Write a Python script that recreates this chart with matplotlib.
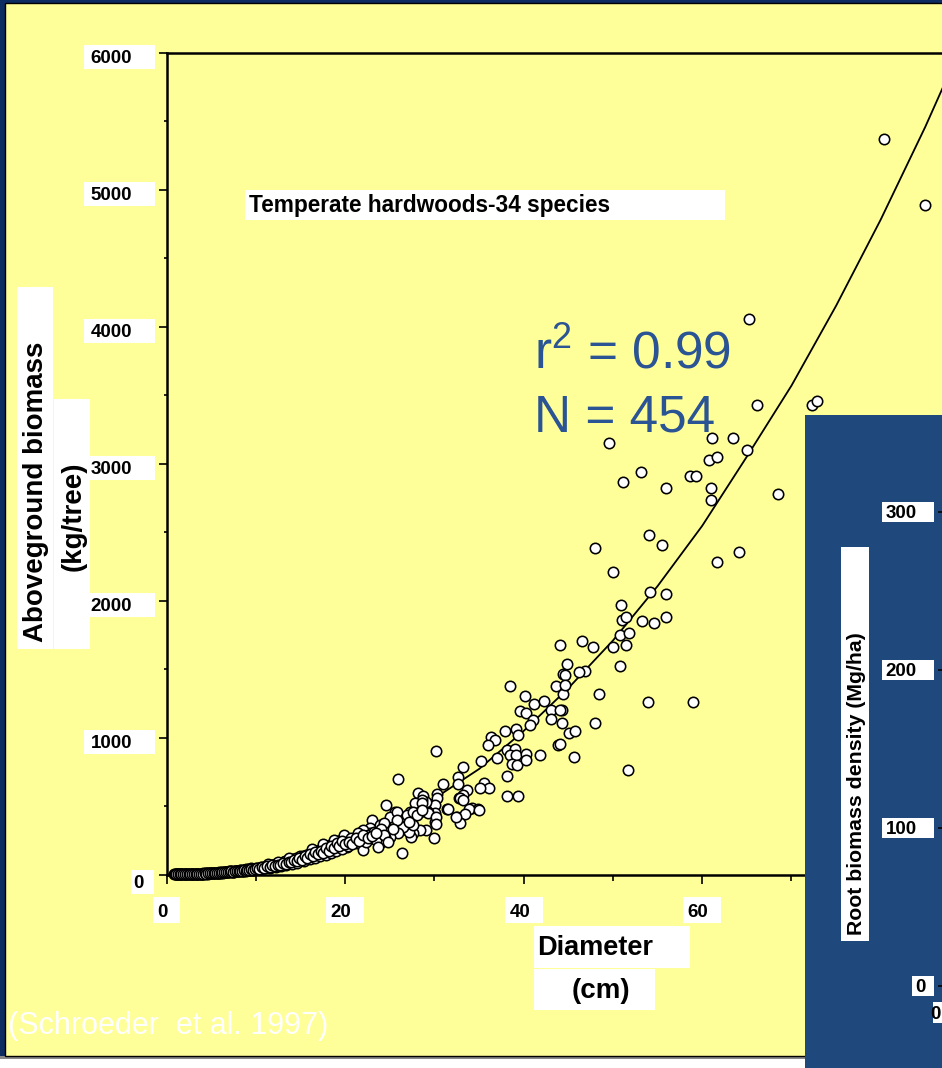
import matplotlib
matplotlib.use('Agg')
import matplotlib.pyplot as plt
from matplotlib.patches import Rectangle
from matplotlib.transforms import Affine2D
from matplotlib.ticker import MultipleLocator

plt.rcParams['font.family'] = ['Liberation Sans', 'DejaVu Sans']
plt.rcParams['mathtext.fontset'] = 'custom'
plt.rcParams['mathtext.rm'] = 'Liberation Sans'

# ---------------- data ----------------
diam_large = [80.4, 85.0, 65.2, 66.1, 72.3, 72.9, 61.1, 63.4, 49.6, 65.0,
              60.8, 61.7, 53.1, 51.1, 55.9, 58.6, 59.3, 61.0, 61.0, 68.5,
              54.0, 55.5, 48.0, 61.7, 64.1, 50.0, 54.2, 55.9]
agb_large = [5371, 4886, 4056, 3427, 3427, 3456, 3184, 3184, 3152, 3097,
             3024, 3050, 2939, 2866, 2822, 2910, 2910, 2822, 2735, 2781,
             2480, 2407, 2380, 2278, 2351, 2206, 2063, 2050]

diam_mid = [50.9, 51.0, 51.5, 53.3, 54.6, 55.9, 50.8, 51.8, 51.5, 50.0,
            46.5, 47.8, 44.1, 46.9, 46.2, 50.8, 44.9, 44.4, 44.6, 44.4,
            44.4, 48.4, 53.9, 59.0, 44.3, 44.3, 48.0, 45.1, 45.8, 43.6,
            44.6, 38.5, 40.1, 41.2, 42.3, 39.6, 40.3, 43.1, 44.1, 43.1,
            41.0, 40.7, 37.9, 39.1, 39.4, 36.3]
agb_mid = [1965, 1861, 1878, 1849, 1834, 1878, 1749, 1764, 1677, 1662,
           1706, 1662, 1677, 1489, 1477, 1519, 1533, 1460, 1453, 1368,
           1320, 1320, 1259, 1259, 1203, 1106, 1106, 1036, 1045, 1375,
           1380, 1375, 1302, 1247, 1264, 1193, 1178, 1203, 1203, 1133,
           1125, 1089, 1045, 1065, 1016, 1004]

diam_low = [36.8, 36.0, 38.1, 39.0, 37.0, 38.5, 39.1, 40.3, 38.7, 39.2,
            40.3, 41.8, 43.8, 44.1, 45.6, 51.7, 30.2, 35.2, 33.2, 38.1,
            32.6, 32.6, 31.0, 35.5, 36.1, 35.1, 33.7, 33.2, 32.7, 32.9,
            38.1, 39.4, 25.9, 28.2, 28.7, 30.3, 30.3, 33.2, 34.2, 34.9,
            31.4, 33.9, 35.0, 32.5, 33.4, 32.9, 32.4, 31.5, 30.1, 30.1,
            30.1, 29.9, 29.3, 29.1, 28.6, 24.6, 27.3, 27.8, 28.6, 28.4,
            26.1, 25.6, 25.0, 29.3, 30.2, 30.2, 29.1, 28.4, 27.6, 23.0,
            23.9, 22.8, 24.6, 22.0, 26.1, 26.9, 26.4, 27.4, 27.1, 26.5,
            25.9, 25.0, 25.8, 26.9, 27.6, 28.0, 28.6, 27.6, 27.1, 25.8,
            24.3, 24.5, 23.0, 23.9, 22.8, 22.0, 21.7, 21.3, 22.0, 20.5,
            20.2, 19.4, 18.9, 18.3]
agb_low = [980, 943, 907, 919, 851, 875, 870, 883, 810, 797,
           839, 875, 943, 950, 858, 761, 902, 829, 785, 717,
           712, 659, 659, 671, 628, 628, 615, 579, 555, 559,
           574, 574, 700, 596, 572, 591, 555, 543, 482, 477,
           475, 475, 470, 421, 438, 373, 421, 477, 506, 446,
           385, 264, 457, 530, 543, 506, 457, 523, 523, 457,
           421, 457, 421, 446, 421, 368, 324, 324, 300, 397,
           360, 336, 348, 312, 324, 324, 159, 275, 312, 348,
           300, 275, 457, 433, 457, 433, 470, 360, 385, 397,
           373, 275, 264, 227, 300, 324, 275, 227, 178, 251,
           202, 191, 227, 202]

diam_small_a = [0.8, 1.0, 1.1, 1.3, 1.4, 1.5, 1.7, 1.8, 2.0, 2.1,
                2.3, 2.4, 2.6, 2.7, 2.9, 3.0, 3.2, 3.3, 3.5, 3.6,
                3.8, 3.9, 4.1, 4.2, 4.4, 4.5, 4.7, 4.8, 5.0, 5.1,
                5.3, 5.4, 5.6, 5.7, 5.9, 1.2, 1.6, 2.2, 2.8, 3.4,
                4.0, 4.6, 5.2, 5.8, 6.0]
agb_small_a = [1, 1, 2, 1, 2, 2, 2, 3, 2, 3,
               3, 4, 3, 4, 5, 4, 5, 6, 5, 6,
               7, 6, 8, 7, 9, 8, 10, 9, 11, 10,
               12, 13, 12, 14, 15, 1, 1, 2, 3, 4,
               6, 7, 9, 11, 13]

diam_small_b = [6.1, 6.3, 6.4, 6.6, 6.7, 6.9, 7.0, 7.2, 7.3, 7.5,
                7.6, 7.8, 7.9, 8.1, 8.2, 8.4, 8.5, 8.7, 8.8, 9.0,
                9.1, 9.3, 9.4, 9.6, 9.7, 9.9, 10.0, 6.5, 7.1, 7.7,
                8.3, 8.9, 9.5, 6.8, 7.4, 8.0, 8.6, 9.2, 9.8]
agb_small_b = [16, 14, 18, 17, 20, 18, 22, 19, 24, 21,
               26, 23, 28, 25, 30, 27, 33, 29, 35, 31,
               38, 34, 40, 36, 43, 39, 46, 21, 25, 29,
               34, 38, 44, 15, 18, 22, 26, 30, 34]

diam_small_c = [10.2, 10.3, 10.5, 10.6, 10.8, 10.9, 11.1, 11.2, 11.4, 11.5,
                11.7, 11.8, 12.0, 12.1, 12.3, 12.4, 12.6, 12.7, 12.9, 13.0,
                13.2, 13.3, 13.5, 13.6, 13.8, 13.9, 14.1, 14.2, 14.4, 14.5,
                14.7, 14.8, 15.0, 10.4, 11.0, 11.6, 12.2, 12.8, 13.4, 14.0,
                14.6, 11.3, 12.5, 13.7, 14.9]
agb_small_c = [42, 50, 47, 55, 51, 58, 54, 62, 57, 66,
               61, 70, 65, 75, 69, 80, 73, 85, 78, 90,
               82, 96, 87, 100, 92, 106, 97, 112, 102, 118,
               108, 124, 113, 38, 44, 50, 56, 62, 70, 78,
               86, 78, 92, 118, 138]

diam_small_d = [15.2, 15.3, 15.5, 15.6, 15.8, 15.9, 16.1, 16.2, 16.4, 16.5,
                16.7, 16.8, 17.0, 17.1, 17.3, 17.4, 17.6, 17.7, 17.9, 18.0,
                18.2, 18.3, 18.5, 18.6, 18.8, 18.9, 19.1, 19.2, 19.4, 19.5,
                19.7, 19.8, 20.0, 15.4, 16.0, 16.6, 17.2, 17.8, 18.4, 19.0,
                19.6, 16.3, 17.5, 18.7, 19.9, 20.3, 20.6, 21.0, 21.4, 21.8,
                22.3, 22.6, 23.2, 23.5, 24.0, 24.3, 24.8, 25.3, 23.7]
agb_small_d = [120, 132, 125, 140, 131, 148, 137, 156, 143, 164,
               150, 172, 157, 180, 164, 188, 171, 197, 178, 206,
               186, 215, 193, 224, 201, 233, 209, 243, 217, 252,
               226, 262, 235, 100, 110, 120, 132, 145, 158, 172,
               186, 185, 220, 250, 290, 205, 270, 240, 300, 260,
               240, 285, 310, 250, 330, 290, 240, 330, 200]

diam_small_e = [0.9, 1.05, 1.25, 1.45, 1.65, 1.85, 2.05, 2.25, 2.45, 2.65,
                2.85, 3.05, 3.25, 3.45, 3.65, 3.85, 4.05, 4.25, 4.45, 4.65,
                4.85, 5.05, 5.25, 5.45, 5.65, 5.85, 6.05, 6.25, 6.45, 6.65,
                6.85, 7.05, 7.25, 7.45, 7.65, 7.85, 8.05, 8.25, 8.45, 8.65,
                8.85, 9.05, 9.25, 9.45, 9.65, 9.85, 10.1, 10.35, 10.65, 10.95,
                11.25, 11.55, 11.85, 12.15, 12.45, 12.75, 13.05, 13.35, 13.65, 13.95,
                14.25, 14.55, 14.85, 15.15, 15.45, 15.75, 16.05, 16.35, 16.65, 16.95,
                17.25, 17.55, 17.85, 18.15, 18.45, 18.75, 19.05, 19.35, 19.65, 19.95,
                20.4, 20.8, 21.2, 21.6, 22.0, 22.5, 23.0, 23.4]
agb_small_e = [2, 2, 1, 1, 3, 2, 3, 2, 3, 4,
               4, 5, 4, 6, 5, 6, 7, 9, 7, 9,
               11, 9, 11, 10, 14, 12, 14, 17, 15, 19,
               21, 18, 23, 20, 24, 27, 24, 29, 26, 32,
               28, 35, 32, 37, 34, 41, 44, 40, 52, 48,
               59, 55, 66, 60, 72, 68, 84, 76, 93, 88,
               104, 95, 118, 108, 135, 122, 150, 135, 166, 150,
               175, 160, 195, 175, 210, 190, 230, 205, 245, 220,
               240, 225, 265, 245, 290, 265, 280, 300]

# fitted regression curve
curve_d = [0, 5, 10, 15, 20, 25, 30, 35, 40, 45, 50, 55, 60, 65, 70, 75, 80, 85, 90]
curve_b = [0, 11, 50, 122, 225, 375, 555, 770, 1048, 1360, 1708, 2105,
           2545, 3050, 3568, 4151, 4780, 5458, 6188]

x_ticks = [0, 20, 40, 60, 80]
x_tick_labels = ['0', '20', '40', '60', '80']
y_ticks = [0, 1000, 2000, 3000, 4000, 5000, 6000]
y_tick_labels = ['0', '1000', '2000', '3000', '4000', '5000', '6000']
root_ticks = [0, 100, 200, 300]
root_tick_labels = ['0', '100', '200', '300']

diam = (diam_large + diam_mid + diam_low + diam_small_a + diam_small_b
        + diam_small_c + diam_small_d + diam_small_e)
agb = (agb_large + agb_mid + agb_low + agb_small_a + agb_small_b
       + agb_small_c + agb_small_d + agb_small_e)

# ---------------- styling ----------------
W, H = 942, 1068
YELLOW = '#FFFF99'
NAVY = '#0D2C62'
PANEL = '#1F497D'
TXTBLUE = '#2A5494'

fig = plt.figure(figsize=(W / 100, H / 100), dpi=100, facecolor='white')
PX = Affine2D().scale(1 / W, -1 / H).translate(0, 1) + fig.transFigure


def box(x0, y0, x1, y1, color='white', z=0.5, **kw):
    r = Rectangle((x0, y0), x1 - x0, y1 - y0, transform=PX, facecolor=color,
                  edgecolor=kw.pop('edgecolor', 'none'), zorder=z, **kw)
    fig.add_artist(r)


def ftext(x, y, s, **kw):
    fig.text(x, y, s, transform=PX, **kw)


# slide background
box(0, 0, W, 1057, NAVY, z=-10)
box(0, 1056, W, 1058.5, '#8A8A8A', z=-9.5)
box(5, 3, W + 5, 1055.5, YELLOW, z=-9, edgecolor='black', linewidth=1.0)

# main axes
ax_left, ax_bottom_px, ax_top_px = 166.7, 874.5, 52.5
ax = fig.add_axes([ax_left / W, (H - ax_bottom_px) / H, 892.5 / W, (ax_bottom_px - ax_top_px) / H])
ax.set_zorder(1)
ax.set_facecolor('none')
ax.set_xlim(0, 100)
ax.set_ylim(0, 6000)
ax.spines['right'].set_visible(False)
for s in ['left', 'top', 'bottom']:
    ax.spines[s].set_linewidth(1.8)
ax.set_xticks([0, 20, 40, 60, 80, 100])
ax.xaxis.set_minor_locator(MultipleLocator(10))
ax.set_yticks(y_ticks)
ax.yaxis.set_minor_locator(MultipleLocator(500))
ax.tick_params(which='both', direction='out', labelleft=False, labelbottom=False,
               top=False, right=False, width=1.2, color='black')
ax.tick_params(axis='x', which='major', length=6.5)
ax.tick_params(axis='x', which='minor', length=4.3)
ax.tick_params(axis='y', which='major', length=5.8)
ax.tick_params(axis='y', which='minor', length=2.3)

ax.plot(curve_d, curve_b, color='black', linewidth=1.3, zorder=2)
ax.scatter(diam, agb, s=56, facecolor='white', edgecolor='black', linewidth=1.15,
           zorder=3, clip_on=False)

# y tick labels with white boxes
for v, lab in zip(y_ticks, y_tick_labels):
    py = H - ax.transData.transform((0, v))[1]
    if len(lab) == 1:
        right, dy, bx0, bx1 = 144, 7, 131, 154
    else:
        right, dy, bx0, bx1 = 132, 4, 84, 155
    box(bx0, py + dy - 12, bx1, py + dy + 12)
    ftext(right, py + dy + 6.5, lab, ha='right', va='baseline', fontsize=13.5,
          fontweight='bold', zorder=3)

# x tick labels with white boxes
for v, lab in zip(x_ticks, x_tick_labels):
    px = ax.transData.transform((v, 0))[0] - 4
    n = len(lab)
    box(px - 5.5 * n - 4, 897, px + 5.5 * n + 12, 923, z=0.5)
    t = ax.text(v, 0, lab, fontsize=13.5, fontweight='bold', ha='center', va='baseline')
    t.set_transform(ax.get_xaxis_transform())
    t.set_position((v - 4 / 8.925, (ax_bottom_px - 917) / (ax_bottom_px - ax_top_px)))
    t.set_clip_on(False)

# axis titles
box(17, 287, 53, 649)
ftext(36, 492, 'Aboveground biomass', rotation=90, ha='center', va='center',
      fontsize=20, fontweight='bold', zorder=3)
box(54, 399, 90, 649)
ftext(74, 516, '(kg/tree)', rotation=90, ha='center', va='center',
      fontsize=20, fontweight='bold', zorder=3)
box(534, 926, 690, 968)
ftext(537, 955, 'Diameter', ha='left', va='baseline', fontsize=19.5,
      fontweight='bold', zorder=3)
box(534, 969, 655, 1010)
ftext(601, 998, '(cm)', ha='center', va='baseline', fontsize=20,
      fontweight='bold', zorder=3)

# in-plot annotations
box(245, 190, 725, 220)
ftext(249, 212, 'Temperate hardwoods-34 species', ha='left', va='baseline',
      fontsize=16.3, fontweight='bold', zorder=3)
ftext(534, 368, r'$\mathrm{r}^{2}$ = 0.99', ha='left', va='baseline',
      fontsize=37, color=TXTBLUE, zorder=3)
ftext(534, 432, 'N = 454', ha='left', va='baseline', fontsize=37,
      color=TXTBLUE, zorder=3)
ftext(8, 1034, '(Schroeder  et al. 1997)', ha='left', va='baseline',
      fontsize=22, color='white', zorder=3)

# overlapping blue panel with a second chart
box(805, 415, W + 10, H + 10, PANEL, z=2)
ax3 = fig.add_axes([943.5 / W, (H - 986) / H, 30 / W, 553 / H])
ax3.set_zorder(4)
ax3.set_facecolor('none')
ax3.set_ylim(0, 350)
ax3.set_xlim(0, 1)
for s in ['right', 'top']:
    ax3.spines[s].set_visible(False)
ax3.set_yticks(root_ticks)
ax3.yaxis.set_minor_locator(MultipleLocator(50))
ax3.set_xticks([0])
ax3.tick_params(which='both', direction='out', labelleft=False, labelbottom=False,
                width=1.1, color='black')
ax3.tick_params(axis='y', which='major', length=4.3)
ax3.tick_params(axis='y', which='minor', length=1.5)

for v, lab in zip(root_ticks, root_tick_labels):
    py = H - ax3.transData.transform((0, v))[1]
    if len(lab) == 1:
        right, bx0 = 926, 912
    else:
        right, bx0 = 917, 882
    box(bx0, py - 10, 934, py + 10, z=2.5)
    ftext(right, py + 6.5, lab, ha='right', va='baseline', fontsize=13.5,
          fontweight='bold', zorder=3)

# x-axis "0" label of the second chart, at the right edge
box(933, 1002, W + 10, 1023, z=2.5)
ftext(W - 1, 1019, root_tick_labels[0], ha='right', va='baseline', fontsize=13.5,
      fontweight='bold', zorder=3)

box(841, 547, 869, 941, z=2.5)
ftext(856, 935, 'Root biomass density (Mg/ha)', rotation=90, ha='center', va='bottom',
      fontsize=15.3, fontweight='bold', zorder=3)

fig.savefig('out.png', dpi=100, facecolor=fig.get_facecolor())
